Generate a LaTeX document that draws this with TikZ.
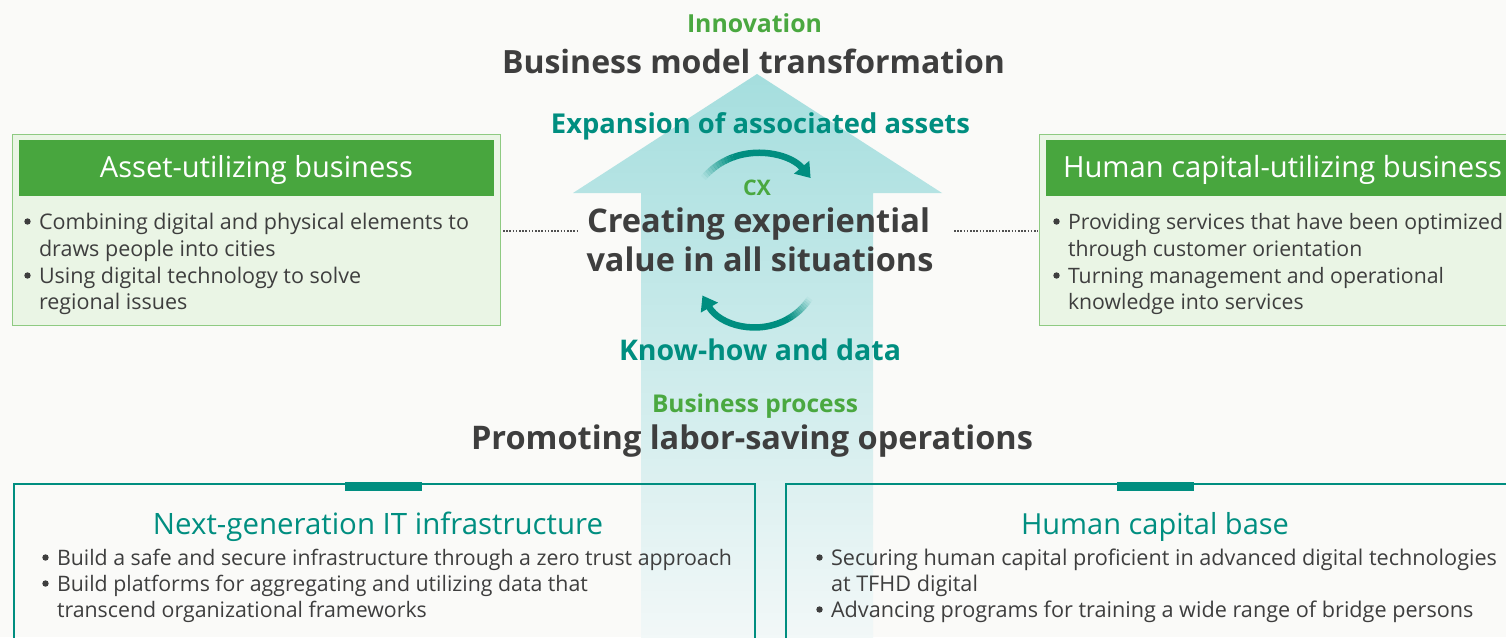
\documentclass[tikz,border=0pt]{standalone}
\usepackage{fontspec}
\usepackage{graphicx}
\setmainfont{Open Sans}
\usetikzlibrary{arrows.meta,calc}
\definecolor{bgc}{RGB}{250,250,248}
\definecolor{darktxt}{RGB}{62,62,62}
\definecolor{grntxt}{RGB}{74,168,64}
\definecolor{hdrgreen}{RGB}{72,166,62}
\definecolor{tealc}{RGB}{0,142,128}
\definecolor{boxfill}{RGB}{234,245,229}
\definecolor{boxline}{RGB}{142,202,130}
\definecolor{arrtop}{RGB}{165,222,222}
\definecolor{arrmid}{RGB}{216,240,240}
\definecolor{arrbot}{RGB}{243,248,248}
\definecolor{dotc}{RGB}{80,80,80}
\newlength\fitw
\newcommand\deffs[3]{\settowidth\fitw{\normalfont\fontsize{20}{24}\selectfont #3}\pgfmathsetmacro#1{#2/\fitw*20}}
\newcommand\fitto[3]{\resizebox{#1pt}{!}{\normalfont\fontsize{20}{24}\selectfont#2#3}}
\begin{document}%
\deffs{\fsA}{430}{Combining digital and physical elements to}%
\deffs{\fsB}{435}{Providing services that have been optimized}%
\deffs{\fsC}{675}{Build a safe and secure infrastructure through a zero trust approach}%
\deffs{\fsD}{666}{Securing human capital proficient in advanced digital technologies}%
\begin{tikzpicture}[x=1pt,y=-1pt,
  txt/.style={inner sep=0pt, outer sep=0pt},
  ctitle/.style={txt, anchor=base},
  bline/.style={txt, anchor=base west, text=darktxt},
  lineA/.style={bline, font=\fontsize{\fsA}{\fsA}\selectfont},
  lineB/.style={bline, font=\fontsize{\fsB}{\fsB}\selectfont},
  lineC/.style={bline, font=\fontsize{\fsC}{\fsC}\selectfont},
  lineD/.style={bline, font=\fontsize{\fsD}{\fsD}\selectfont},
  bulletdot/.style={fill=darktxt},
  greenbox/.style={draw=boxline, fill=boxfill, line width=1.2pt, minimum width=488pt, minimum height=191pt, anchor=north west, inner sep=0pt},
  greenhdr/.style={fill=hdrgreen, minimum width=475pt, minimum height=56pt, anchor=north west, inner sep=0pt},
  tealbox/.style={draw=tealc, line width=2pt, minimum width=741pt, minimum height=220pt, anchor=north west, inner sep=0pt},
  tealtab/.style={fill=tealc, minimum width=77pt, minimum height=9pt, anchor=north west, inner sep=0pt},
  dotline/.style={draw=dotc, line width=1.5pt, dash pattern=on 1.5pt off 1.7pt},
  cyc/.style={draw=tealc, line width=6.5pt}
]
\fill[bgc] (0,0) rectangle (1506,637);
\useasboundingbox (0,0) rectangle (1506,637);
\clip (0,0) rectangle (1506,637);

% big arrow
\shade[top color=arrtop, middle color=arrmid, bottom color=arrbot]
  (757,74) -- (942,193) -- (873,193) -- (873,645) -- (641,645) -- (641,193) -- (573,193) -- cycle;

% top boxes
\node[greenbox] (lbox) at (12,134) {};
\node[greenhdr] (lhdr) at (19,140) {};
\node[greenbox] (rbox) at (1039,134) {};
\node[greenhdr] (rhdr) at (1046,140) {};
\node[ctitle, text=white] (lhdrt) at (256.5,177) {\fitto{313}{}{Asset-utilizing business}};
\node[txt, anchor=base west, text=white] (rhdrt) at (1063,177) {\fitto{439}{}{Human capital-utilizing business}};

\node[lineA] (la1) at (39,229) {Combining digital and physical elements to};
\node[lineA] (la2) at (39,256) {draws people into cities};
\node[lineA] (la3) at (39,283) {Using digital technology to solve};
\node[lineA] (la4) at (39,309) {regional issues};

\node[lineB] (rb1) at (1068,229) {Providing services that have been optimized};
\node[lineB] (rb2) at (1068,256) {through customer orientation};
\node[lineB] (rb3) at (1068,283) {Turning management and operational};
\node[lineB] (rb4) at (1068,309) {knowledge into services};

% dotted connectors
\coordinate (dA) at (503,231);
\coordinate (dB) at (578,231);
\coordinate (dC) at (954,231);
\coordinate (dD) at (1038,231);
\draw[dotline] (dA) -- (dB);
\draw[dotline] (dC) -- (dD);

% centre texts
\node[ctitle, text=grntxt] (innov) at (754.5,33) {\fitto{135}{\bfseries}{Innovation}};
\node[ctitle, text=darktxt] (bmt) at (753.5,73) {\fitto{503}{\bfseries}{Business model transformation}};
\node[ctitle, text=tealc] (expa) at (760.5,133) {\fitto{419}{\bfseries}{Expansion of associated assets}};
\node[ctitle, text=grntxt] (cx) at (757,195) {\fitto{28}{\bfseries}{CX}};
\node[ctitle, text=darktxt] (cev1) at (758.5,232) {\fitto{343}{\bfseries}{Creating experiential}};
\node[ctitle, text=darktxt] (cev2) at (760,271) {\fitto{347}{\bfseries}{value in all situations}};
\node[ctitle, text=tealc] (khd) at (760,360) {\fitto{282}{\bfseries}{Know-how and data}};
\node[ctitle, text=grntxt] (bpr) at (755,412) {\fitto{206}{\bfseries}{Business process}};
\node[ctitle, text=darktxt] (plso) at (752,449) {\fitto{562}{\bfseries}{Promoting labor-saving operations}};

% cycle arrows
\coordinate (c1) at (757,223);
\coordinate (c2) at (757,264);
\foreach \i in {0,...,11}{
  \pgfmathsetmacro\aa{-140+\i*2.5}
  \pgfmathsetmacro\op{(\i+0.5)/12}
  \draw[cyc, opacity=\op] ($(c1)+(\aa:70)$) arc[start angle=\aa, end angle=\aa+2.6, radius=70];
}
\draw[cyc, -{Triangle[length=14pt,width=19pt]}] ($(c1)+(-110:70)$) arc[start angle=-110, end angle=-40, radius=70];
\foreach \i in {0,...,11}{
  \pgfmathsetmacro\aa{33+\i*2.25}
  \pgfmathsetmacro\op{(\i+0.5)/12}
  \draw[cyc, opacity=\op] ($(c2)+(\aa:63)$) arc[start angle=\aa, end angle=\aa+2.35, radius=63];
}
\draw[cyc, -{Triangle[length=14pt,width=19pt]}] ($(c2)+(60:63)$) arc[start angle=60, end angle=150, radius=63];

% bottom boxes
\node[tealbox] (bl) at (13,483) {};
\node[tealbox] (br) at (785,483) {};
\node[tealtab] (tabl) at (345,482) {};
\node[tealtab] (tabr) at (1117,482) {};
\node[ctitle, text=tealc] (blt) at (378,534) {\fitto{450}{}{Next-generation IT infrastructure}};
\node[ctitle, text=tealc] (brt) at (1155,534) {\fitto{268}{}{Human capital base}};

\node[lineC] (lc1) at (57,565) {Build a safe and secure infrastructure through a zero trust approach};
\node[lineC] (lc2) at (57,591) {Build platforms for aggregating and utilizing data that};
\node[lineC] (lc3) at (57,617) {transcend organizational frameworks};

\node[lineD] (rd1) at (831,565) {Securing human capital proficient in advanced digital technologies};
\node[lineD] (rd2) at (831,591) {at TFHD digital};
\node[lineD] (rd3) at (831,617) {Advancing programs for training a wide range of bridge persons};

% bullets
\foreach \n in {la1,la3,rb1,rb3,lc1,lc2,rd1,rd3}{
  \fill[bulletdot] ($(\n.base west)+(-11.5,-7.5)$) circle (3.2);
}
\end{tikzpicture}%
\end{document}
